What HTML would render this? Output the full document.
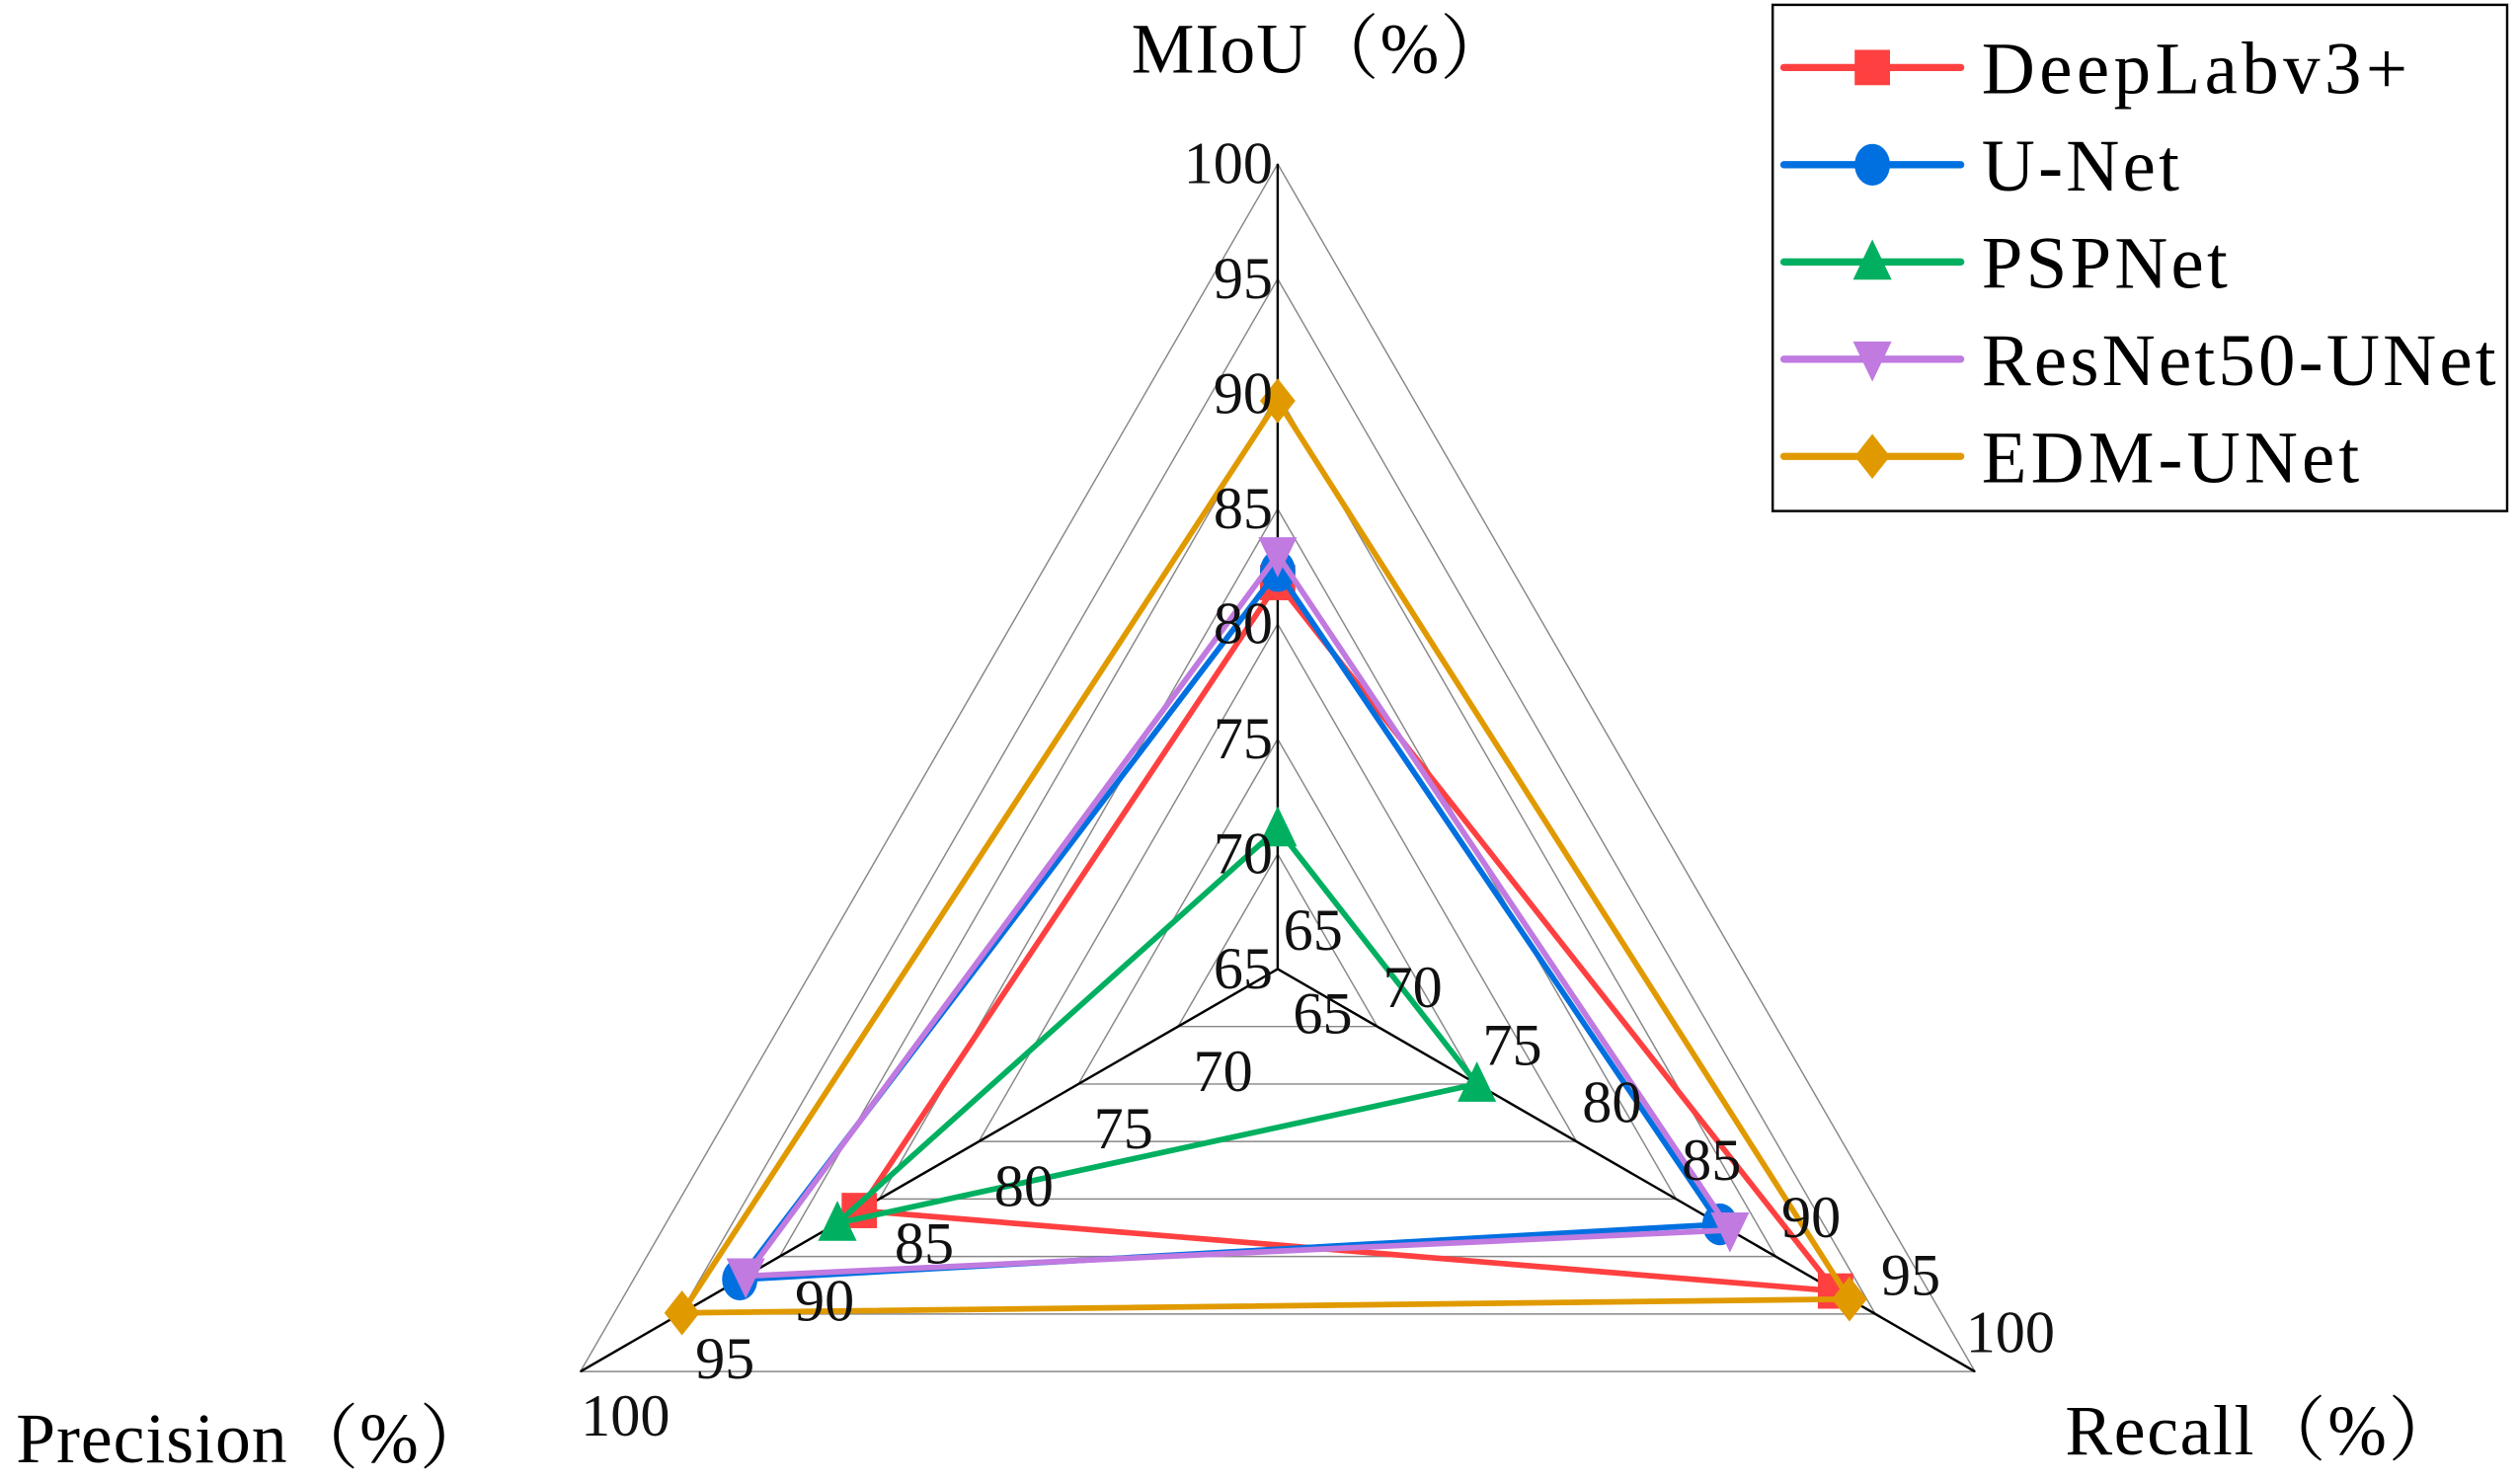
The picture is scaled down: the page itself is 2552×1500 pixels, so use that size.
<!DOCTYPE html>
<html><head><meta charset="utf-8"><style>
html,body{margin:0;padding:0;background:#fff;}
svg{display:block;font-family:"Liberation Serif","Noto Serif CJK SC",serif;}
</style></head><body>
<svg id="chart" width="2552" height="1500" viewBox="0 0 1568 921.6" xmlns="http://www.w3.org/2000/svg">
<g id="grid"></g>
<g id="series"></g>
<g id="labels"></g>
<text x="822" y="45" font-size="44" text-anchor="middle" textLength="236">MIoU（%）</text>
<text x="10" y="910" font-size="44" textLength="295">Precision（%）</text>
<text x="1285" y="905" font-size="44" textLength="245">Recall（%）</text>
<g id="legend">
<rect x="1103" y="3" width="457" height="315" fill="#fff" stroke="#000" stroke-width="1.5"/>
</g>
</svg>
<script>
const axes = ["MIoU", "Recall", "Precision"];
const ticks = [65, 70, 75, 80, 85, 90, 95, 100];
const seriesNames = ["DeepLabv3+", "U-Net", "PSPNet", "ResNet50-UNet", "EDM-UNet"];
const deeplabValues = [81.8, 93.0, 86.0];
const unetValues = [82.3, 87.2, 92.0];
const pspnetValues = [71.1, 75.0, 87.1];
const resnetValues = [83.0, 87.7, 91.7];
const edmValues = [89.7, 93.7, 94.9];
const seriesValues = [deeplabValues, unetValues, pspnetValues, resnetValues, edmValues];
const colors = ["#ff4040", "#0070e0", "#00b060", "#c07ae0", "#e09a00"];
const markers = ["square", "circle", "triangle", "triangle-down", "diamond"];
const legendWidths = [265, 123, 153, 320, 235];

const NS = "http://www.w3.org/2000/svg";
const cx = 795, cy = 603, R = 501;
const vmin = 65, vmax = 100;
const angles = [-90, 30, 150].map(a => a * Math.PI / 180);
function rScale(v){ return (v - vmin) / (vmax - vmin) * R; }
function pt(axis, v){ const r = rScale(v); return [cx + r*Math.cos(angles[axis]), cy + r*Math.sin(angles[axis])]; }
function mk(tag, attrs, parent){ const e = document.createElementNS(NS, tag); for (const k in attrs) e.setAttribute(k, attrs[k]); parent.appendChild(e); return e; }

const grid = document.getElementById('grid');
ticks.forEach((t, i) => {
  if (i === 0) return;
  const p = [0,1,2].map(a => pt(a, t).join(',')).join(' ');
  const e = mk('polygon', {points: p, fill: 'none', stroke: '#888', 'stroke-width': 0.9}, grid);
  
  
});
[0,1,2].forEach(a => {
  const [x, y] = pt(a, vmax);
  const e = mk('line', {x1: cx, y1: cy, x2: x, y2: y, stroke: '#000', 'stroke-width': 1.5}, grid);
  
  
});

const labels = document.getElementById('labels');
[0,1,2].forEach(a => {
  ticks.forEach(t => {
    const [x, y] = pt(a, t);
    const e = mk('text', {'font-size': 37, fill: '#111', 'text-anchor': 'middle'}, labels);
    if (a === 0) { e.setAttribute('text-anchor', 'end'); e.setAttribute('x', x - 3); e.setAttribute('y', y + 12); }
    if (a === 1) { e.setAttribute('x', x + 22); e.setAttribute('y', y - 12); }
    if (a === 2) { e.setAttribute('x', x + 28); e.setAttribute('y', y + 40); }
    e.textContent = t;
    
    
  });
});

function marker(type, x, y, color, parent){
  let e;
  const s = 11;
  if (type === 'square') e = mk('rect', {x: x-s, y: y-s, width: 2*s, height: 2*s, fill: color}, parent);
  else if (type === 'circle') e = mk('ellipse', {cx: x, cy: y, rx: s, ry: s+2, fill: color}, parent);
  else if (type === 'triangle') e = mk('polygon', {points: `${x},${y-s-3} ${x-s-1},${y+s} ${x+s+1},${y+s}`, fill: color}, parent);
  else if (type === 'triangle-down') e = mk('polygon', {points: `${x-s-1},${y-s} ${x+s+1},${y-s} ${x},${y+s+3}`, fill: color}, parent);
  else e = mk('polygon', {points: `${x},${y-s-3} ${x+s},${y} ${x},${y+s+3} ${x-s},${y}`, fill: color}, parent);
  
  
}

const sg = document.getElementById('series');
seriesValues.forEach((vals, i) => {
  const pts = vals.map((v, a) => pt(a, v));
  const g = mk('g', {}, sg);
  
  
  const p = mk('polygon', {points: pts.map(q => q.join(',')).join(' '), fill: 'none', stroke: colors[i], 'stroke-width': 3.5, 'stroke-linejoin': 'round'}, g);
  
  
  pts.forEach(q => marker(markers[i], q[0], q[1], colors[i], g));
});

const lg = document.getElementById('legend');
seriesNames.forEach((n, i) => {
  const y = 42 + i * 60.5;
  const g = mk('g', {}, lg);
  
  
  mk('line', {x1: 1110, y1: y, x2: 1220, y2: y, stroke: colors[i], 'stroke-width': 4.5, 'stroke-linecap': 'round'}, g);
  marker(markers[i], 1165, y, colors[i], g);
  const t = mk('text', {x: 1233, y: y + 16, 'font-size': 46, fill: '#000', textLength: legendWidths[i]}, g);
  t.textContent = n;
});
</script>
</body></html>
